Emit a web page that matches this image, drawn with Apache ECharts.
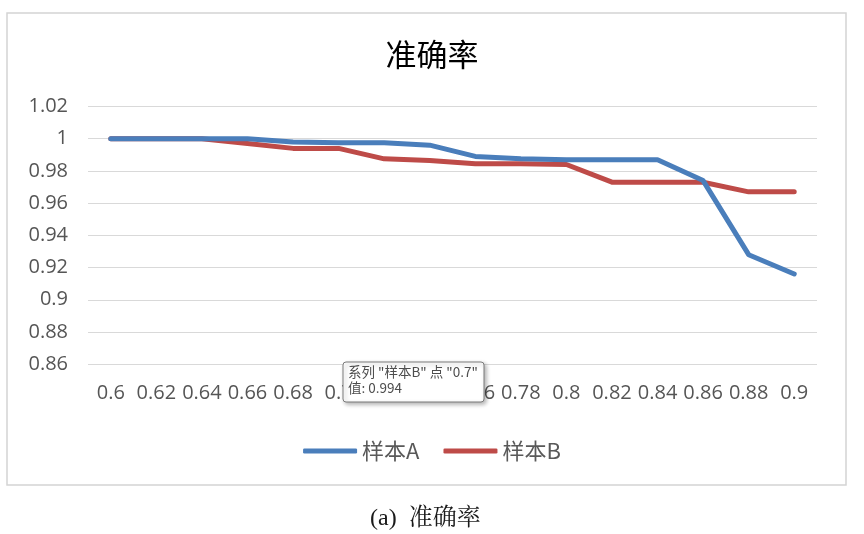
<!DOCTYPE html>
<html>
<head>
<meta charset="utf-8">
<script src="https://cdn.jsdelivr.net/npm/echarts@6/dist/echarts.min.js"></script>
<style>
html,body{margin:0;padding:0;background:#fff;}
#c{width:864px;height:534px;}
</style>
</head>
<body>
<div id="c"></div>
<script>
const categories = ['0.6','0.62','0.64','0.66','0.68','0.7','0.72','0.74','0.76','0.78','0.8','0.82','0.84','0.86','0.88','0.9'];
const seriesA = [1, 1, 1, 1, 0.998, 0.9975, 0.9975, 0.996, 0.989, 0.9875, 0.987, 0.987, 0.987, 0.974, 0.928, 0.916];
const seriesB = [1, 1, 1, 0.997, 0.994, 0.994, 0.9875, 0.9865, 0.9845, 0.9844, 0.984, 0.973, 0.973, 0.973, 0.967, 0.967];
const seriesNames = ['样本A', '样本B'];
const yTicks = { min: 0.86, max: 1.02, interval: 0.02 };
const titleText = '准确率';
const captionText = '(a)  准确率';
const tipLines = ['系列 "样本B" 点 "0.7"', '值: 0.994'];

const numFont = '"Open Sans", "Noto Sans", sans-serif';
const cjkFont = '"Noto Sans CJK SC", "Noto Sans", sans-serif';

const chart = echarts.init(document.getElementById('c'), null, {renderer: 'canvas'});
chart.setOption({
  backgroundColor: '#ffffff',
  animation: false,
  title: {
    text: titleText,
    left: 'center',
    top: 34,
    textStyle: {fontFamily: cjkFont, fontSize: 31, fontWeight: 'normal', color: '#000000'}
  },
  legend: {
    data: seriesNames,
    left: 'center',
    top: 435,
    icon: 'roundRect',
    itemWidth: 54,
    itemHeight: 5,
    itemGap: 24,
    textStyle: {fontFamily: cjkFont, fontSize: 22, color: '#595959'}
  },
  grid: {left: 88, right: 47, top: 106.5, bottom: 534 - 364.2, containLabel: false},
  xAxis: {
    type: 'category',
    data: categories,
    boundaryGap: true,
    axisLine: {show: false},
    axisTick: {show: false},
    axisLabel: {fontFamily: numFont, fontSize: 20, color: '#555555', margin: 19, interval: 0}
  },
  yAxis: {
    type: 'value',
    min: yTicks.min,
    max: yTicks.max,
    interval: yTicks.interval,
    axisLine: {show: false},
    axisTick: {show: false},
    splitLine: {lineStyle: {color: '#D9D9D9', width: 1.2}},
    axisLabel: {fontFamily: numFont, fontSize: 20, color: '#555555', margin: 20,
      formatter: v => String(parseFloat(v.toFixed(2)))}
  },
  series: [
    {name: seriesNames[0], type: 'line', data: seriesA, showSymbol: false, symbol: 'none',
      color: '#4A7EBB', lineStyle: {width: 5, color: '#4A7EBB', cap: 'round', join: 'round'}, z: 3},
    {name: seriesNames[1], type: 'line', data: seriesB, showSymbol: false, symbol: 'none',
      color: '#BE4B48', lineStyle: {width: 5, color: '#BE4B48', cap: 'round', join: 'round'}, z: 2}
  ],
  graphic: [
    {type: 'rect', shape: {x: 7, y: 13, width: 839, height: 472}, silent: true, z: -10,
      style: {fill: 'none', stroke: '#D4D4D4', lineWidth: 1.5}},
    {type: 'text', left: 370, top: 507, silent: true,
      style: {text: captionText, font: '24px "Liberation Serif", "Noto Serif CJK SC", "Noto Sans CJK SC", serif', fill: '#1a1a1a'}},
    {type: 'rect', zlevel: 2, z: 100, silent: true, shape: {x: 343, y: 362, width: 141, height: 40, r: 3},
      style: {fill: '#ffffff', stroke: '#7a7a7a', lineWidth: 1, shadowBlur: 4, shadowOffsetX: 2, shadowOffsetY: 2, shadowColor: 'rgba(0,0,0,0.3)'}},
    {type: 'text', zlevel: 2, z: 101, silent: true, x: 348, y: 365,
      style: {text: tipLines[0], font: '13.5px ' + cjkFont, fill: '#4d4d4d'}},
    {type: 'text', zlevel: 2, z: 101, silent: true, x: 348, y: 381,
      style: {text: tipLines[1], font: '13.5px ' + cjkFont, fill: '#4d4d4d'}}
  ]
});
</script>
</body>
</html>
